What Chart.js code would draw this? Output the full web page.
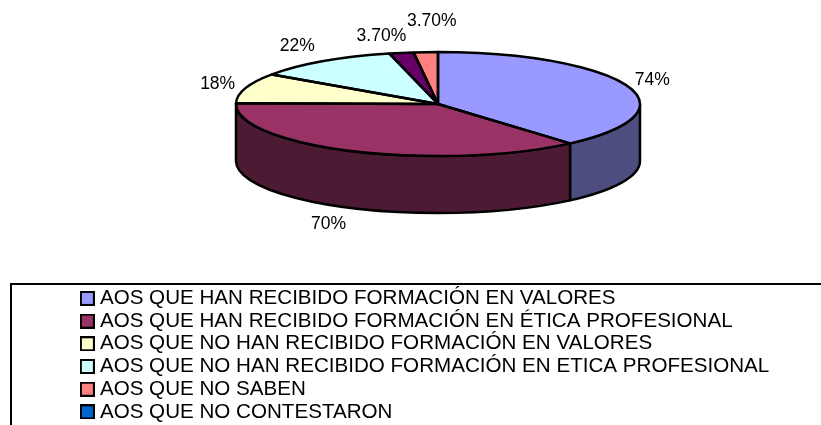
<!DOCTYPE html>
<html>
<head>
<meta charset="utf-8">
<title>Formación en valores y ética profesional</title>
<script src="https://cdn.jsdelivr.net/npm/chart.js@4/dist/chart.umd.min.js"></script>
<style>
	html, body { margin: 0; padding: 0; background: #fff; overflow: hidden; }
	canvas { display: block; }
</style>
</head>
<body>
<canvas id="chart" width="821" height="425"></canvas>
<script>
// Legend skips the fifth category, it has a slice but no text in the original.
var categories = [
	"AOS QUE HAN RECIBIDO FORMACIÓN EN VALORES",
	"AOS QUE HAN RECIBIDO FORMACIÓN EN ÉTICA PROFESIONAL",
	"AOS QUE NO HAN RECIBIDO FORMACIÓN EN VALORES",
	"AOS QUE NO HAN RECIBIDO FORMACIÓN EN ETICA PROFESIONAL",
	"",
	"AOS QUE NO SABEN",
	"AOS QUE NO CONTESTARON"
];
var values = [74, 70, 18, 22, 3.7, 3.7, 0];
var valueLabels = ["74%", "70%", "18%", "22%", "3.70%", "3.70%", ""];
var sliceColors = ["#9999FF", "#993366", "#FFFFCC", "#CCFFFF", "#660066", "#FF8080", "#0066CC"];
var wallColors = ["#4D4D80", "#4D1A33", "#80805F", "#668080", "#330033", "#804040", "#003366"];

// Where the flattened pie sits on the page
var PIE = { cx: 438, cy: 104, rx: 202, ry: 52, depth: 57 };
// Label offset from the slice's rim point, Excel placed these by hand
var LABEL_NUDGE = [[25, -6], [-24, 16], [-28, -4], [-26, -15], [-20, -17], [6, -31], [0, 0]];
var OUTLINE = "#000";

function squash(ctx, arc) {
	ctx.translate(PIE.cx, PIE.cy);
	ctx.scale(PIE.rx / arc.outerRadius, PIE.ry / arc.outerRadius);
	ctx.translate(-arc.x, -arc.y);
}

// The legend's own box is too narrow for the text gap we need, so use a bigger image as point style
function makeSwatch(color) {
	var c = document.createElement("canvas");
	c.width = 15;
	c.height = 15;
	var g = c.getContext("2d");
	g.fillStyle = OUTLINE;
	g.fillRect(0, 0, 15, 15);
	g.fillStyle = color;
	g.fillRect(2, 2, 11, 11);
	return c;
}

var pie3d = {
	id: "pie3d",
	beforeDraw: function(chart) {
		// The swatch image hangs a little left of the legend box, skip the legend's clip
		chart.legend.draw = function() { this._draw(); };
	},
	beforeDatasetsDraw: function(chart) {
		var ctx = chart.ctx;
		var arcs = chart.getDatasetMeta(0).data;
		ctx.save();
		ctx.strokeStyle = OUTLINE;
		ctx.lineWidth = 2.5;
		ctx.lineJoin = "round";
		// Side wall, only the front half of the rim is visible
		for (var i = 0; i < arcs.length; i++) {
			var a0 = Math.max(arcs[i].startAngle, 0);
			var a1 = Math.min(arcs[i].endAngle, Math.PI);
			if (a1 <= a0) continue;
			ctx.beginPath();
			ctx.ellipse(PIE.cx, PIE.cy, PIE.rx, PIE.ry, 0, a0, a1);
			ctx.ellipse(PIE.cx, PIE.cy + PIE.depth, PIE.rx, PIE.ry, 0, a1, a0, true);
			ctx.closePath();
			ctx.fillStyle = wallColors[i];
			ctx.fill();
			ctx.stroke();
		}
		ctx.restore();
		// Slices get drawn by the controller under this transform
		ctx.save();
		squash(ctx, arcs[0]);
	},
	afterDatasetsDraw: function(chart) {
		var ctx = chart.ctx;
		var arcs = chart.getDatasetMeta(0).data;
		ctx.restore();

		// Stroke after restoring so the line width is not squashed too
		ctx.save();
		ctx.strokeStyle = OUTLINE;
		ctx.lineWidth = 2.5;
		ctx.lineJoin = "round";
		for (var i = 0; i < arcs.length; i++) {
			if (!values[i]) continue;
			ctx.save();
			squash(ctx, arcs[i]);
			ctx.beginPath();
			ctx.moveTo(arcs[i].x, arcs[i].y);
			ctx.arc(arcs[i].x, arcs[i].y, arcs[i].outerRadius, arcs[i].startAngle, arcs[i].endAngle);
			ctx.closePath();
			ctx.restore();
			ctx.stroke();
		}

		ctx.fillStyle = "#000";
		ctx.font = "17.5px 'Liberation Sans', Arial, sans-serif";
		ctx.textAlign = "center";
		ctx.textBaseline = "middle";
		for (var j = 0; j < arcs.length; j++) {
			if (!valueLabels[j]) continue;
			var mid = (arcs[j].startAngle + arcs[j].endAngle) / 2;
			var x = PIE.cx + PIE.rx * Math.cos(mid);
			var y = PIE.cy + PIE.ry * Math.sin(mid);
			if (Math.sin(mid) > 0) y += PIE.depth;
			ctx.fillText(valueLabels[j], x + LABEL_NUDGE[j][0], y + LABEL_NUDGE[j][1]);
		}
		ctx.restore();
	},
	afterDraw: function(chart) {
		// Legend frame, cut off by the picture on the right and at the bottom
		var ctx = chart.ctx;
		ctx.save();
		ctx.strokeStyle = OUTLINE;
		ctx.lineWidth = 2;
		ctx.beginPath();
		ctx.moveTo(11, chart.height);
		ctx.lineTo(11, 284);
		ctx.lineTo(chart.width, 284);
		ctx.stroke();
		ctx.restore();
	}
};

new Chart(document.getElementById("chart"), {
	type: "pie",
	data: {
		labels: categories,
		datasets: [{
			data: values,
			backgroundColor: sliceColors,
			borderWidth: 0,
			clip: false
		}]
	},
	options: {
		responsive: false,
		animation: false,
		events: [],
		layout: { padding: { left: 83, top: 286 } },
		plugins: {
			tooltip: { enabled: false },
			legend: {
				position: "left",
				align: "start",
				maxWidth: 730,
				labels: {
					color: "#000",
					usePointStyle: true,
					boxWidth: 4.5,
					boxHeight: 13,
					padding: 2.1,
					font: { family: "'Liberation Sans', Arial, sans-serif", size: 20.6 },
					filter: function(item) { return item.text !== ""; },
					generateLabels: function(chart) {
						var items = Chart.overrides.doughnut.plugins.legend.labels.generateLabels(chart);
						items.forEach(function(item, i) {
							item.pointStyle = makeSwatch(sliceColors[i]);
						});
						return items;
					}
				}
			}
		}
	},
	plugins: [pie3d]
});
</script>
</body>
</html>
